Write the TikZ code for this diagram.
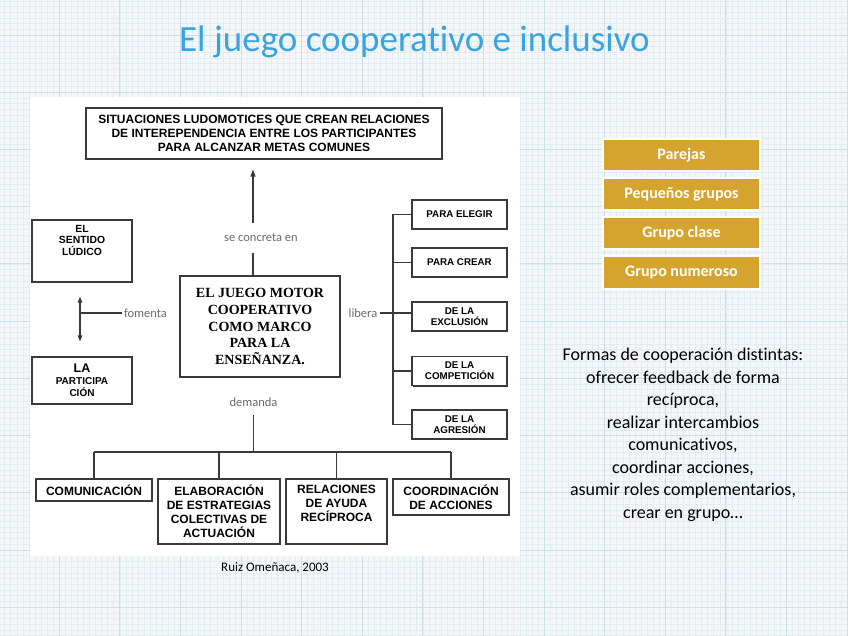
\documentclass[tikz,border=0pt]{standalone}
\usepackage{fontspec}
\setmainfont{Carlito}[Ligatures=CommonOff]
\newfontfamily\arialfont{Liberation Sans}
\newfontfamily\timesfont{Liberation Serif}
\usepackage{tikz}
\usetikzlibrary{arrows.meta,positioning,calc,shadows}
\definecolor{fondo}{HTML}{F4F6F7}
\definecolor{rejilla}{HTML}{E2EDF2}
\definecolor{rejillaf}{HTML}{C9E0EB}
\definecolor{titulo}{HTML}{3BA3DF}
\definecolor{oro}{HTML}{D5A42F}
\definecolor{trazo}{HTML}{3A3A3A}
\definecolor{etiq}{HTML}{6B6B6B}
\newcommand{\tam}[2]{\fontsize{#1}{#2}\selectfont}
\tikzset{
  caja/.style={draw=trazo, line width=1.1pt, fill=white, align=center, inner sep=0pt, font=\arialfont\bfseries,
    drop shadow={shadow xshift=1.3pt, shadow yshift=-1.3pt, fill=black!80, opacity=1}},
  cajad/.style={caja, minimum width=95, minimum height=29, font=\arialfont\bfseries\tam{9.8pt}{11pt}},
  cajab/.style={caja, font=\arialfont\bfseries\tam{12pt}{14pt}},
  verbo/.style={font=\tam{12.5pt}{14pt}, text=etiq, inner sep=2pt},
  linea/.style={draw=trazo, line width=1.3pt},
  flecha/.style={linea, -{Triangle[length=7pt, width=5pt]}},
  dflecha/.style={linea, {Triangle[length=6pt, width=4.5pt]}-{Triangle[length=6pt, width=4.5pt]}},
  grupo/.style={draw=white, line width=2pt, fill=oro, text=white, font=\bfseries\tam{16pt}{18pt},
    minimum width=157, minimum height=32, inner sep=0pt},
}

\begin{document}
\begin{tikzpicture}[x=1pt, y=-1pt]
  \useasboundingbox (0,0) rectangle (848,636);
  % papel cuadriculado
  \fill[fondo] (0,0) rectangle (848,636);
  \foreach \i in {0,...,141}{ \draw[rejilla, line width=.3pt] (\i*6.06-1.5,0) -- (\i*6.06-1.5,636); }
  \foreach \j in {0,...,115}{ \draw[rejilla, line width=.3pt] (0,\j*5.72-22.2) -- (848,\j*5.72-22.2); }
  \foreach \i in {0,...,14}{ \draw[rejillaf, line width=.6pt] (\i*60.6-1.5,0) -- (\i*60.6-1.5,636); }
  \foreach \j in {0,...,11}{ \draw[rejillaf, line width=.6pt] (0,\j*57.2-22.2) -- (848,\j*57.2-22.2); }

  \node[text=titulo, font=\tam{37pt}{40pt}, inner sep=0pt] (titulo) at (414.5,42) {El juego cooperativo e inclusivo};

  % mapa de Ruiz Omeñaca
  \fill[white] (30,97) rectangle (520,556);

  \node[cajab, minimum width=356, minimum height=51] (situaciones) at (264,133.5)
    {SITUACIONES LUDOMOTICES QUE CREAN RELACIONES\\DE INTEREPENDENCIA ENTRE LOS PARTICIPANTES\\PARA ALCANZAR METAS COMUNES};
  \node[caja, minimum width=160, minimum height=101, font=\timesfont\bfseries\tam{14pt}{16.6pt}] (juego) at (260,326.5)
    {EL JUEGO MOTOR\\COOPERATIVO\\COMO MARCO\\PARA LA\\ENSEÑANZA.};

  \node[caja, minimum width=100, minimum height=62] (sentido) at (82,251)
    {\parbox[c][62pt][t]{100pt}{\centering\arialfont\bfseries\tam{10.4pt}{11.5pt}\vspace{5pt}EL\\SENTIDO\\LÚDICO}};
  \node[caja, minimum width=100, minimum height=47, font=\arialfont\bfseries\tam{10pt}{12pt}] (participa) at (82,380.5)
    {{\tam{12.5pt}{12pt}LA}\\PARTICIPA\\CIÓN};

  \node[cajad] (elegir) at (459.5,214.5) {PARA ELEGIR};
  \node[cajad] (crear) at (459.5,262.5) {PARA CREAR};
  \node[cajad] (exclusion) at (459.5,316.5) {DE LA\\EXCLUSIÓN};
  \node[cajad] (competicion) at (459.5,371) {DE LA\\COMPETICIÓN};
  \node[cajad] (agresion) at (459.5,424.5) {DE LA\\AGRESIÓN};

  \node[cajab, minimum width=116, minimum height=22] (comunicacion) at (94,490) {COMUNICACIÓN};
  \node[cajab, minimum width=122, minimum height=65] (estrategias) at (219,511.5)
    {ELABORACIÓN\\DE ESTRATEGIAS\\COLECTIVAS DE\\ACTUACIÓN};
  \node[caja, minimum width=101, minimum height=65] (ayuda) at (336.5,511.5)
    {\parbox[c][65pt][t]{101pt}{\centering\arialfont\bfseries\tam{12pt}{14pt}\vspace{6pt}RELACIONES\\DE AYUDA\\RECÍPROCA}};
  \node[cajab, minimum width=116, minimum height=36] (coordinacion) at (451,497) {COORDINACIÓN\\DE ACCIONES};

  % verbos
  \node[verbo, minimum height=30] (concreta) at (261,238) {se concreta en};
  \node[verbo] (fomenta) at (145.5,313) {fomenta};
  \node[verbo] (libera) at (363,313) {libera};
  \node[verbo, minimum height=26] (demanda) at (253.5,402) {demanda};

  \coordinate (eje) at (253,0);
  \coordinate (ejeizq) at (80,0);
  \coordinate (tronco) at (393,0);
  \coordinate (bus) at (0,452);

  \draw[linea] (juego.north -| eje) -- (concreta.south -| eje);
  \draw[flecha, shorten >=10pt] (concreta.north -| eje) -- (situaciones.south -| eje);
  \draw[dflecha, shorten <=14pt, shorten >=15pt] (sentido.south -| ejeizq) -- (participa.north -| ejeizq);
  \draw[linea] (fomenta.west) -- (fomenta.west -| ejeizq);
  \draw[linea] (libera.east) -- (libera.east -| exclusion.west);
  \draw[linea] (elegir.west -| tronco) -- (agresion.west -| tronco);
  \foreach \n in {elegir,crear,competicion,agresion}{ \draw[linea] (\n.west) -- (\n.west -| tronco); }
  \draw[linea] (demanda.south) -- (demanda.south |- bus);
  \draw[linea] (comunicacion.north |- bus) -- (coordinacion.north |- bus);
  \foreach \n in {comunicacion,estrategias,ayuda,coordinacion}{ \draw[linea] (\n.north) -- (\n.north |- bus); }

  \node[font=\tam{13pt}{15pt}, inner sep=0pt] (fuente) at (275,568) {Ruiz Omeñaca, 2003};

  % agrupamientos
  \foreach \t [count=\k] in {Parejas,Pequeños grupos,Grupo clase,Grupo numeroso}{
    \node[grupo] (grupo\k) at (681.5,116.5+39*\k) {\t};
  }

  \node[align=center, font=\tam{18pt}{22.5pt}, inner sep=0pt] (formas) at (683,435)
    {Formas de cooperación distintas:\\ofrecer feedback de forma\\recíproca,\\realizar intercambios\\comunicativos,\\coordinar acciones,\\asumir roles complementarios,\\crear en grupo…};
\end{tikzpicture}
\end{document}
